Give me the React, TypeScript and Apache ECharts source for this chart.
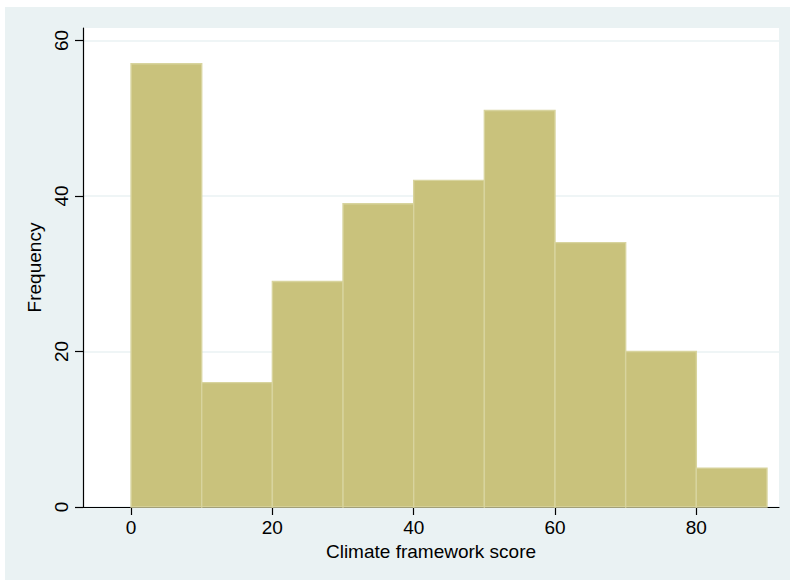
import React, { useEffect, useRef } from "react";
import * as echarts from "echarts";

const binStarts = [0, 10, 20, 30, 40, 50, 60, 70, 80];
const binWidth = 10;
const frequencies = [57, 16, 29, 39, 42, 51, 34, 20, 5];
const xTicks = [0, 20, 40, 60, 80];
const yTicks = [0, 20, 40, 60];
const xTitle = "Climate framework score";
const yTitle = "Frequency";

const FONT = "'Liberation Sans', Arial, Helvetica, sans-serif";
const PANEL = "#EAF2F3";

export default function App() {
  const ref = useRef<HTMLDivElement>(null);
  useEffect(() => {
    if (!ref.current) return;
    const chart = echarts.init(ref.current, undefined, { renderer: "svg" });
    const data = binStarts.map((s, i) => [s, s + binWidth, frequencies[i]]);
    chart.setOption({
      animation: false,
      backgroundColor: "#ffffff",
      graphic: [
        {
          type: "rect",
          shape: { x: 5, y: 7, width: 785, height: 573 },
          style: { fill: PANEL },
          z: -10,
          silent: true,
        },
      ],
      grid: {
        left: 83,
        top: 28,
        right: 11,
        bottom: 73,
        show: true,
        backgroundColor: "#ffffff",
        borderWidth: 0,
      },
      xAxis: {
        type: "value",
        min: -6.8,
        max: 91.7,
        name: xTitle,
        nameLocation: "middle",
        nameGap: 28,
        nameTextStyle: { fontFamily: FONT, fontSize: 19, color: "#000" },
        axisLine: { show: true, onZero: false, lineStyle: { color: "#000", width: 1.2 } },
        axisTick: { show: true, length: 8, customValues: xTicks, lineStyle: { color: "#000", width: 1.2 } },
        axisLabel: { customValues: xTicks, margin: 11, fontFamily: FONT, fontSize: 19, color: "#000" },
        splitLine: { show: false },
      },
      yAxis: {
        type: "value",
        min: 0,
        max: 61.6,
        name: yTitle,
        nameLocation: "middle",
        nameGap: 28,
        nameRotate: 90,
        nameTextStyle: { fontFamily: FONT, fontSize: 19, color: "#000" },
        axisLine: { show: true, onZero: false, lineStyle: { color: "#000", width: 1.2 } },
        axisTick: { show: true, length: 8, customValues: yTicks, lineStyle: { color: "#000", width: 1.2 } },
        axisLabel: { customValues: yTicks, rotate: 90, margin: 12, fontFamily: FONT, fontSize: 19, color: "#000" },
        splitLine: { show: true, lineStyle: { color: PANEL, width: 1.5 } },
      },
      series: [
        {
          type: "custom",
          data,
          encode: { x: [0, 1], y: 2 },
          renderItem: (params: any, api: any) => {
            const p0 = api.coord([api.value(0), api.value(2)]);
            const p1 = api.coord([api.value(1), 0]);
            return {
              type: "rect",
              shape: { x: p0[0], y: p0[1], width: p1[0] - p0[0], height: p1[1] - p0[1] },
              style: { fill: "#C9C27C", stroke: "#D8D49E", lineWidth: 1.4 },
            };
          },
        },
      ],
    });
    return () => chart.dispose();
  }, []);
  return (
    <div
      ref={ref}
      style={{ position: "absolute", left: 0, top: 0, width: 790, height: 580 }}
    />
  );
}
